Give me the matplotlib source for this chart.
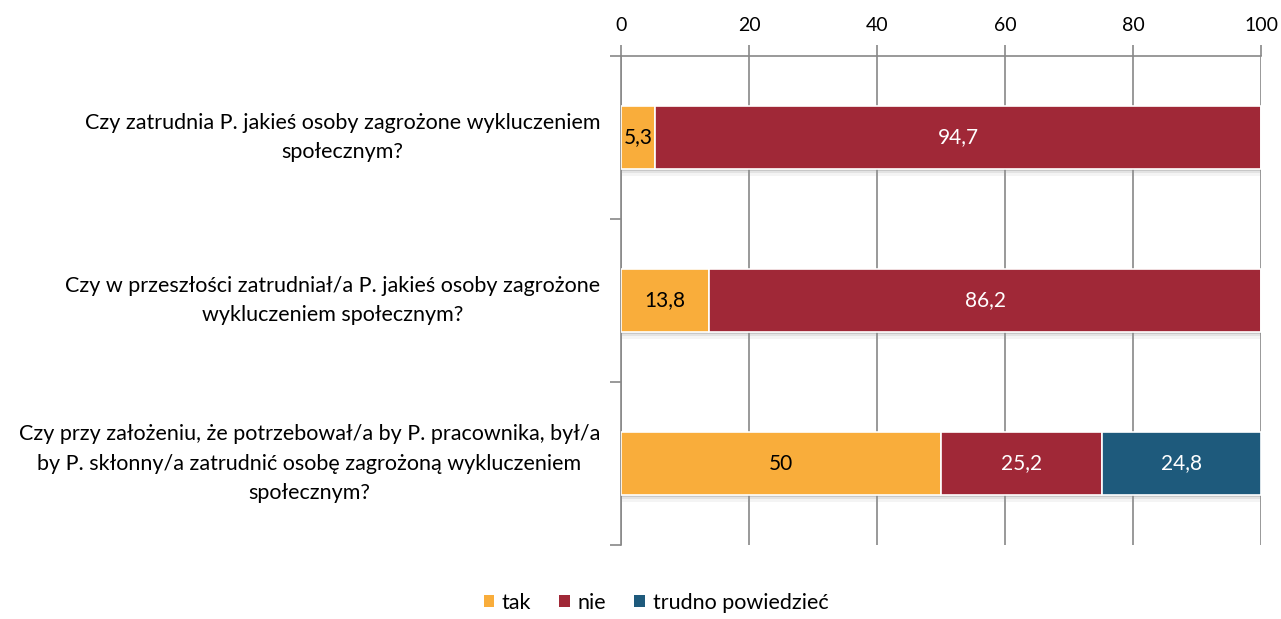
import matplotlib.pyplot as plt
import matplotlib.patheffects as pe
from matplotlib.patches import Patch
import numpy as np

plt.rcParams["font.family"] = ["Lato", "DejaVu Sans"]

questions = [
    "Czy zatrudnia P. jakieś osoby zagrożone wykluczeniem\nspołecznym?",
    "Czy w przeszłości zatrudniał/a P. jakieś osoby zagrożone\nwykluczeniem społecznym?",
    "Czy przy założeniu, że potrzebował/a by P. pracownika, był/a\nby P. skłonny/a zatrudnić osobę zagrożoną wykluczeniem\nspołecznym?",
]
tak = [5.3, 13.8, 50.0]
nie = [94.7, 86.2, 25.2]
trudno = [0.0, 0.0, 24.8]
series_names = ["tak", "nie", "trudno powiedzieć"]
colors = ["#F9AD3B", "#A02837", "#1E5A7C"]
text_colors = ["black", "white", "white"]

fig = plt.figure(figsize=(12.81, 6.19), dpi=100)
ax = fig.add_axes([0.4848, 0.1195, 0.4996, 0.79])

# soft drop shadow under each bar segment
shadow = [
    pe.SimplePatchShadow(offset=(0, -4.5), shadow_rgbFace="#999999", alpha=0.10),
    pe.SimplePatchShadow(offset=(0, -3.0), shadow_rgbFace="#999999", alpha=0.18),
    pe.SimplePatchShadow(offset=(0, -1.5), shadow_rgbFace="#888888", alpha=0.30),
    pe.Normal(),
]

y = np.arange(len(questions))
left = np.zeros(len(questions))
for vals, name, col, tcol in zip([tak, nie, trudno], series_names, colors, text_colors):
    vals = np.array(vals)
    bars = ax.barh(y, vals, left=left, height=0.39, color=col, edgecolor="white",
                   linewidth=1.2, zorder=3)
    for b in bars:
        b.set_path_effects(shadow)
    for yi, v, l in zip(y, vals, left):
        if v > 0:
            ax.text(l + v / 2, yi, f"{v:g}".replace(".", ","), ha="center", va="center",
                    color=tcol, fontsize=15, zorder=4)
    left = left + vals

ax.set_xlim(0, 100)
ax.set_ylim(2.5, -0.5)
ax.set_xticks(range(0, 101, 20))
ax.xaxis.tick_top()
ax.tick_params(axis="x", which="major", direction="out", length=8, width=1.2,
               color="#888888", labelsize=14, pad=8)
ax.grid(axis="x", color="#888888", linewidth=1.2, zorder=0)

ax.set_yticks(y)
ax.set_yticklabels(questions, fontsize=15.5, va="center")
for lab in ax.get_yticklabels():
    lab.set_multialignment("center")
    lab.set_linespacing(1.6)
ax.set_yticks([-0.5, 0.5, 1.5, 2.5], minor=True)
ax.tick_params(axis="y", which="major", length=0, pad=15)
ax.tick_params(axis="y", which="minor", direction="out", length=8, width=1.2, color="#888888")

for s in ["right", "bottom"]:
    ax.spines[s].set_visible(False)
for s in ["top", "left"]:
    ax.spines[s].set_color("#888888")
    ax.spines[s].set_linewidth(1.2)

handles = [Patch(facecolor=c, edgecolor="none", label=n) for c, n in zip(colors, series_names)]
fig.legend(handles=handles, loc="center", bbox_to_anchor=(0.512, 0.026), ncol=3,
           frameon=False, fontsize=15.5, handlelength=0.5, handleheight=0.5,
           handletextpad=0.35, columnspacing=1.3, borderaxespad=0)

fig.savefig("out.png", dpi=100)
